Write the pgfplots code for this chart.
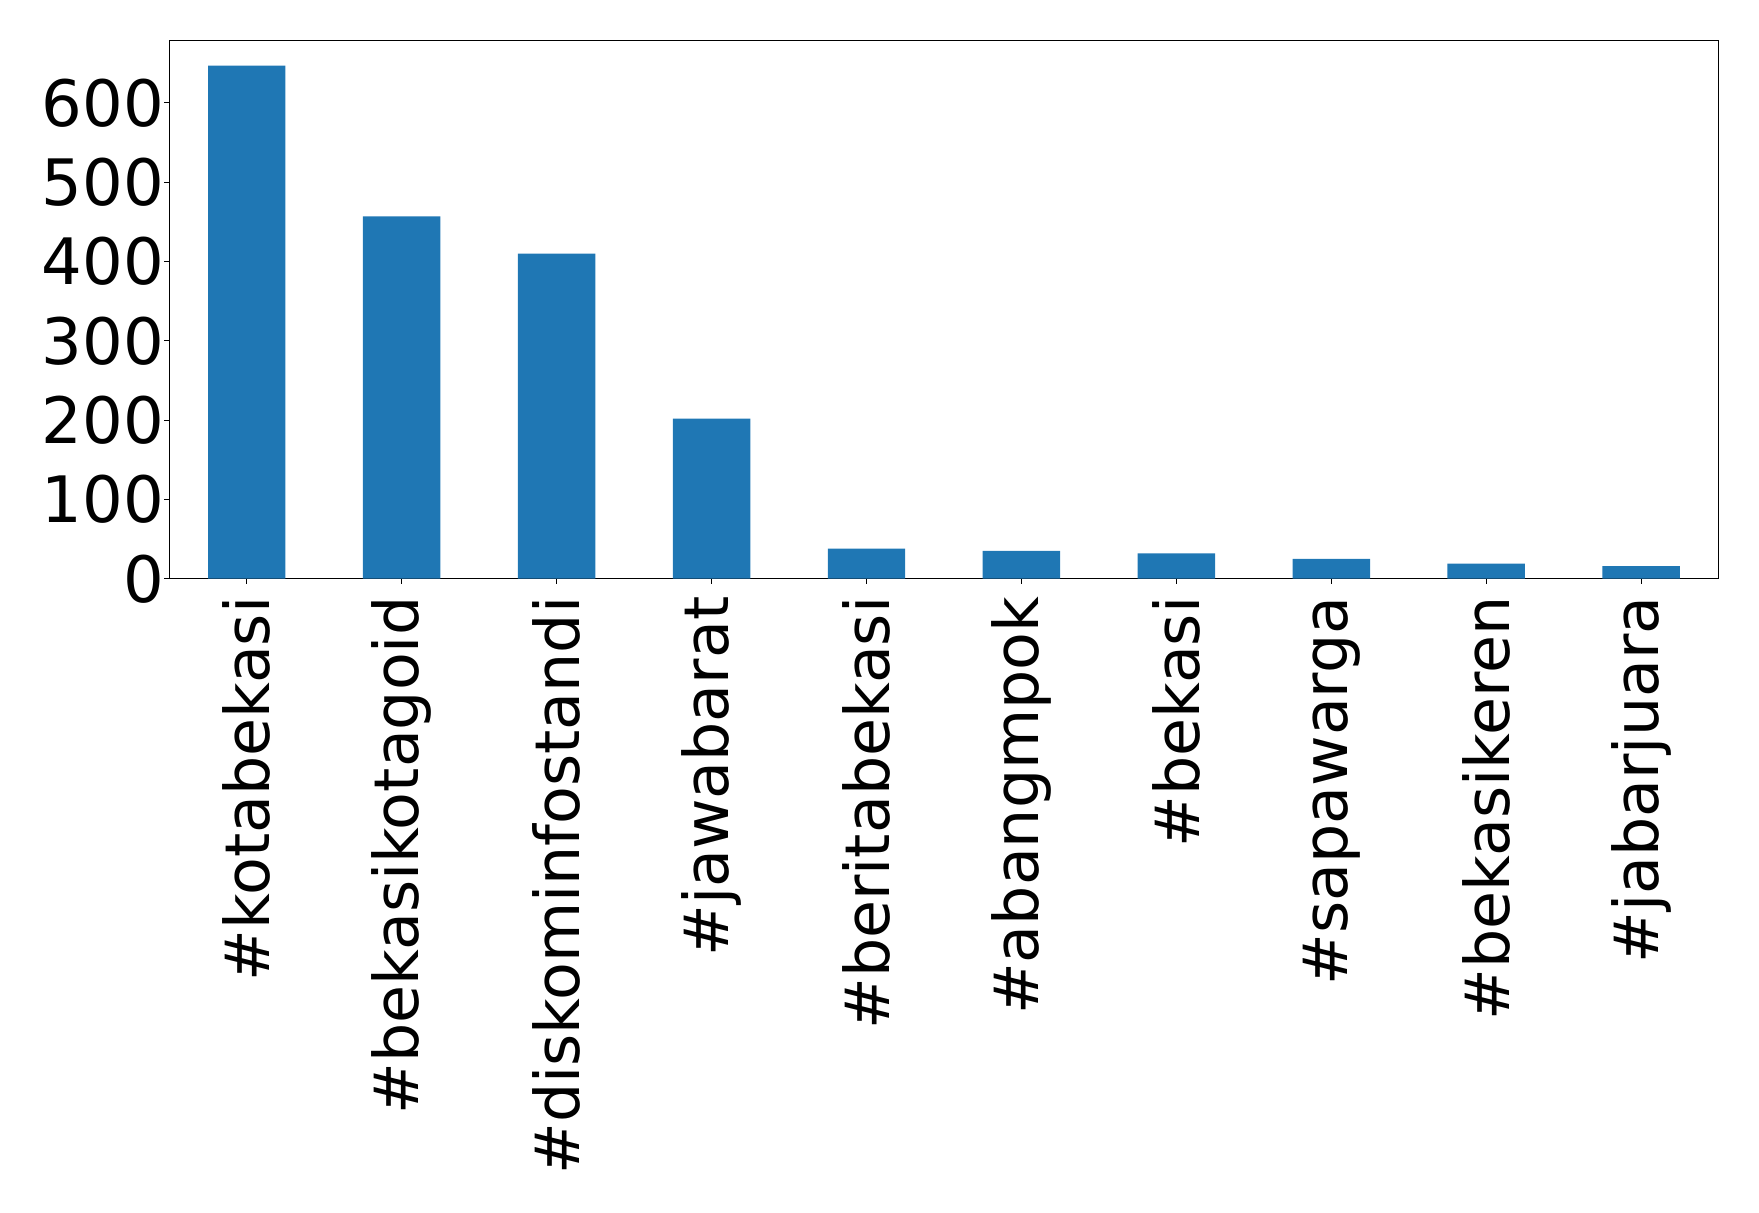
\documentclass[border=0pt]{standalone}
\usepackage{fontspec}
\setmainfont{DejaVu Sans}
\usepackage{pgfplots}
\pgfplotsset{compat=1.18}
\definecolor{mplblue}{HTML}{1F77B4}
\begin{document}
\begin{tikzpicture}
\begin{axis}[
  at={(0,0)}, anchor=south west,
  scale only axis,
  width=774.65pt, height=269.2pt,
  xmin=-0.5, xmax=9.5, ymin=0, ymax=679,
  ytick={0,100,200,300,400,500,600},
  xtick={0,1,2,3,4,5,6,7,8,9},
  xticklabels={\#kotabekasi,\#bekasikotagoid,\#diskominfostandi,\#jawabarat,\#beritabekasi,\#abangmpok,\#bekasi,\#sapawarga,\#bekasikeren,\#jabarjuara},
  tick pos=left,
  tick align=outside,
  major tick length=2.5pt,
  tick style={black, line width=0.5pt},
  axis line style={black, line width=0.5pt},
  /pgf/number format/assume math mode=true,
  yticklabel style={font=\fontsize{32}{38}\selectfont, anchor=east, inner sep=0pt},
  xticklabel style={font=\fontsize{30.9}{38}\selectfont, rotate=90, anchor=east, inner sep=0pt},
  xticklabel shift=6.3pt,
]
\addplot[ybar, bar width=0.5, fill=mplblue, draw=none] coordinates {
  (0,647) (1,457) (2,410) (3,202) (4,38) (5,35) (6,32) (7,25) (8,19) (9,16)
};
\end{axis}
\pgfresetboundingbox
\path[use as bounding box] (-84.65pt,-316.65pt) rectangle (794.85pt,289.35pt);
\end{tikzpicture}
\end{document}
